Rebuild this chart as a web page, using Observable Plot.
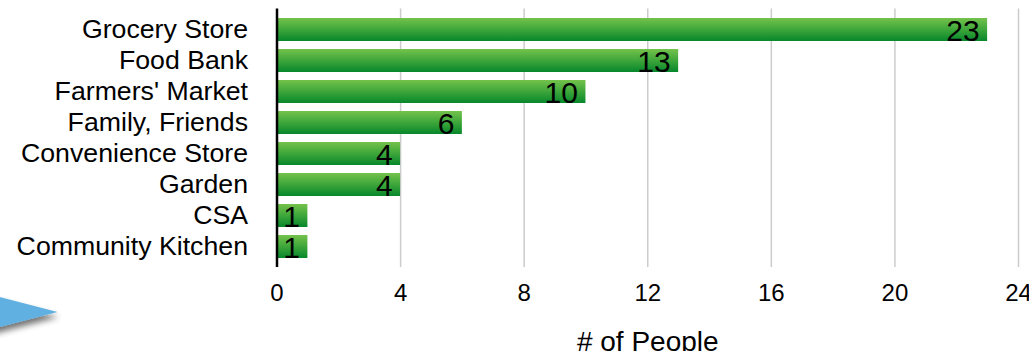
<!DOCTYPE html>
<html>
<head>
<meta charset="utf-8">
<script src="https://cdn.jsdelivr.net/npm/d3@7"></script>
<script src="https://cdn.jsdelivr.net/npm/@observablehq/plot@0.6"></script>
<style>
  html, body { margin: 0; padding: 0; background: #fff; }
  #wrap { position: relative; width: 1029px; height: 351px; overflow: hidden; }
  #arrow { position: absolute; left: 0; top: 285px; }
</style>
</head>
<body>
<div id="wrap">
  <div id="chart"></div>
  <svg id="arrow" width="100" height="66" viewBox="0 0 100 66">
    <defs>
      <filter id="shadow" x="-30%" y="-30%" width="160%" height="180%">
        <feGaussianBlur in="SourceAlpha" stdDeviation="3"/>
        <feOffset dx="1" dy="5" result="b"/>
        <feComponentTransfer><feFuncA type="linear" slope="0.55"/></feComponentTransfer>
        <feMerge><feMergeNode/><feMergeNode in="SourceGraphic"/></feMerge>
      </filter>
    </defs>
    <polygon points="-20,7 57.5,27 -20,47" fill="#60b0e2" filter="url(#shadow)"/>
  </svg>
</div>
<script>
const categories = ["Grocery Store", "Food Bank", "Farmers' Market", "Family, Friends", "Convenience Store", "Garden", "CSA", "Community Kitchen"];
const counts = [23, 13, 10, 6, 4, 4, 1, 1];
const xTicks = [0, 4, 8, 12, 16, 20, 24];
const axisTitle = "# of People";

const data = categories.map((c, i) => ({source: c, people: counts[i]}));

function gradientDefs() {
  const ns = "http://www.w3.org/2000/svg";
  const defs = document.createElementNS(ns, "defs");
  const lg = document.createElementNS(ns, "linearGradient");
  lg.setAttribute("id", "bargrad");
  lg.setAttribute("x1", "0"); lg.setAttribute("y1", "0");
  lg.setAttribute("x2", "0"); lg.setAttribute("y2", "1");
  [["0%", "#74c24b"], ["45%", "#43a93c"], ["100%", "#07872c"]].forEach(([o, c]) => {
    const s = document.createElementNS(ns, "stop");
    s.setAttribute("offset", o); s.setAttribute("stop-color", c);
    lg.appendChild(s);
  });
  defs.appendChild(lg);
  return defs;
}

const chart = Plot.plot({
  width: 1029,
  height: 351,
  marginLeft: 276.5,
  marginRight: 11,
  marginTop: 8.5,
  marginBottom: 84,
  style: {fontFamily: "'Liberation Sans', Arial, Helvetica, sans-serif", background: "white", color: "black"},
  x: {domain: [0, 24], ticks: xTicks, label: null},
  y: {domain: categories, padding: 0.25, label: null},
  marks: [
    gradientDefs,
    Plot.gridX(xTicks.slice(1), {stroke: "#cccccc", strokeOpacity: 1, strokeWidth: 1.5}),
    Plot.barX(data, {x: "people", y: "source", fill: "url(#bargrad)"}),
    Plot.text(data, {x: "people", y: "source", text: d => String(d.people), textAnchor: "end", dx: -8, dy: 1, fontSize: 30, fill: "black"}),
    Plot.ruleX([0], {stroke: "black", strokeWidth: 2.5}),
    Plot.axisY({tickSize: 0, tickPadding: 29, fontSize: 26.7, dy: -1, label: null}),
    Plot.axisX({ticks: xTicks, tickSize: 0, tickPadding: 16, fontSize: 24, label: null}),
    Plot.text([axisTitle], {frameAnchor: "bottom", lineAnchor: "top", dy: 64, fontSize: 28, fill: "black"})
  ]
});
document.getElementById("chart").appendChild(chart);
</script>
</body>
</html>
